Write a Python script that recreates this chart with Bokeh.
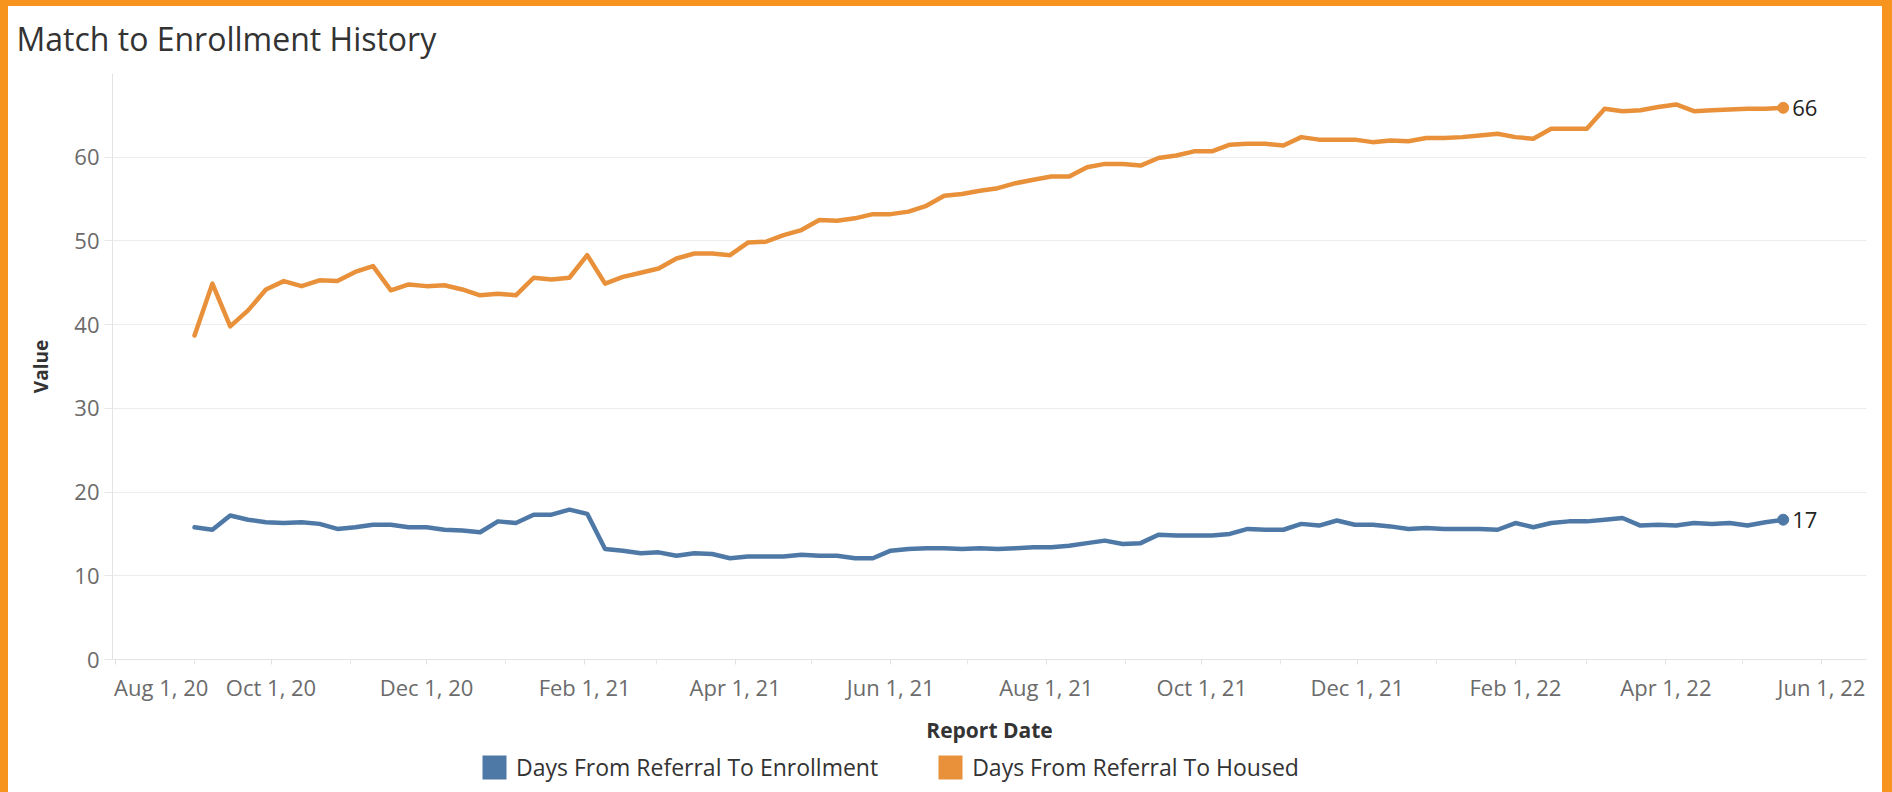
from datetime import datetime
import pandas as pd
from bokeh.plotting import figure
from bokeh.layouts import column
from bokeh.models import (ColumnDataSource, FixedTicker, DatetimeTickFormatter,
                          Legend, LegendItem, Range1d)
from bokeh.core.properties import value
from bokeh.embed import file_html
from bokeh.resources import INLINE

# ---------------- data ----------------
report_dates = [
    "2020-09-01", "2020-09-08", "2020-09-15", "2020-09-22", "2020-09-29",
    "2020-10-06", "2020-10-13", "2020-10-20", "2020-10-27",
    "2020-11-03", "2020-11-10", "2020-11-17", "2020-11-24",
    "2020-12-01", "2020-12-08", "2020-12-15", "2020-12-22", "2020-12-29",
    "2021-01-05", "2021-01-12", "2021-01-19", "2021-01-26",
    "2021-02-02", "2021-02-09", "2021-02-16", "2021-02-23",
    "2021-03-02", "2021-03-09", "2021-03-16", "2021-03-23", "2021-03-30",
    "2021-04-06", "2021-04-13", "2021-04-20", "2021-04-27",
    "2021-05-04", "2021-05-11", "2021-05-18", "2021-05-25",
    "2021-06-01", "2021-06-08", "2021-06-15", "2021-06-22", "2021-06-29",
    "2021-07-06", "2021-07-13", "2021-07-20", "2021-07-27",
    "2021-08-03", "2021-08-10", "2021-08-17", "2021-08-24", "2021-08-31",
    "2021-09-07", "2021-09-14", "2021-09-21", "2021-09-28",
    "2021-10-05", "2021-10-12", "2021-10-19", "2021-10-26",
    "2021-11-02", "2021-11-09", "2021-11-16", "2021-11-23", "2021-11-30",
    "2021-12-07", "2021-12-14", "2021-12-21", "2021-12-28",
    "2022-01-04", "2022-01-11", "2022-01-18", "2022-01-25",
    "2022-02-01", "2022-02-08", "2022-02-15", "2022-02-22",
    "2022-03-01", "2022-03-08", "2022-03-15", "2022-03-22", "2022-03-29",
    "2022-04-05", "2022-04-12", "2022-04-19", "2022-04-26",
    "2022-05-03", "2022-05-10", "2022-05-17",
]

days_to_enrollment = [
    15.8, 15.5, 17.2, 16.7, 16.4, 16.3, 16.4, 16.2, 15.6, 15.8, 16.1, 16.1,
    15.8, 15.8, 15.5, 15.4, 15.2, 16.5, 16.3, 17.3, 17.3, 17.9, 17.4, 13.2,
    13.0, 12.7, 12.8, 12.4, 12.7, 12.6, 12.1, 12.3,
    12.3, 12.3, 12.5, 12.4, 12.4, 12.1, 12.1, 13.0, 13.2, 13.3, 13.3, 13.2,
    13.3, 13.2, 13.3, 13.4, 13.4, 13.6, 13.9, 14.2, 13.8, 13.9, 14.9, 14.8,
    14.8, 14.8, 15.0, 15.6, 15.5, 15.5, 16.2, 16.0, 16.6,
    16.1, 16.1, 15.9, 15.6, 15.7, 15.6, 15.6, 15.6, 15.5, 16.3, 15.8, 16.3,
    16.5, 16.5, 16.7, 16.9, 16.0, 16.1, 16.0, 16.3, 16.2, 16.3, 16.0, 16.4,
    16.7,
]

days_to_housed = [
    38.7, 44.9, 39.8, 41.7, 44.2, 45.2, 44.6, 45.3, 45.2, 46.3, 47.0, 44.1,
    44.8, 44.6, 44.7, 44.2, 43.5, 43.7, 43.5, 45.6, 45.4, 45.6, 48.3, 44.9,
    45.7, 46.2, 46.7, 47.9, 48.5, 48.5, 48.3, 49.8,
    49.9, 50.7, 51.3, 52.5, 52.4, 52.7, 53.2, 53.2, 53.5, 54.2, 55.4, 55.6,
    56.0, 56.3, 56.9, 57.3, 57.7, 57.7, 58.8, 59.2, 59.2, 59.0, 59.9, 60.2,
    60.7, 60.7, 61.5, 61.6, 61.6, 61.4, 62.4, 62.1, 62.1,
    62.1, 61.8, 62.0, 61.9, 62.3, 62.3, 62.4, 62.6, 62.8, 62.4, 62.2, 63.4,
    63.4, 63.4, 65.8, 65.5, 65.6, 66.0, 66.3, 65.5, 65.6, 65.7, 65.8, 65.8,
    65.9,
]

series_names = ["Days From Referral To Enrollment", "Days From Referral To Housed"]
series_colors = ["#4E79A7", "#E8913A"]

x_tick_dates = ["2020-08-01", "2020-10-01", "2020-12-01", "2021-02-01",
                "2021-04-01", "2021-06-01", "2021-08-01", "2021-10-01",
                "2021-12-01", "2022-02-01", "2022-04-01", "2022-06-01"]
x_minor_tick_dates = ["2020-09-01", "2020-11-01", "2021-01-01", "2021-03-01",
                      "2021-05-01", "2021-07-01", "2021-09-01", "2021-11-01",
                      "2022-01-01", "2022-03-01", "2022-05-01"]
y_ticks = [0, 10, 20, 30, 40, 50, 60]

title_text = "Match to Enrollment History"
x_title = "Report Date"
y_title = "Value"

# ---------------- helpers ----------------
def to_ms(strs):
    epoch = pd.Timestamp("1970-01-01")
    return [(pd.Timestamp(s) - epoch).total_seconds() * 1000.0 for s in strs]

dates = pd.to_datetime(report_dates)
FONT = "Open Sans"
ORANGE_FRAME = "#F7941E"

# ---------------- main chart ----------------
p = figure(width=1892, height=746, x_axis_type="datetime",
           x_range=Range1d(datetime(2020, 7, 30, 20), datetime(2022, 6, 18, 16)),
           y_range=Range1d(0, 70),
           output_backend="svg", toolbar_location=None,
           min_border_left=112, min_border_right=26,
           min_border_top=72, min_border_bottom=86)

# orange dashboard frame (top, left, right) drawn behind a transparent border fill
p.styles = {"background-color": "white",
            "box-shadow": f"inset 8px 6px 0 0 {ORANGE_FRAME}, inset -10px 0 0 0 {ORANGE_FRAME}"}
p.background_fill_color = "white"
p.border_fill_alpha = 0
p.outline_line_color = None

# title
p.title.text = title_text
p.title.text_font = FONT
p.title.text_font_size = "32px"
p.title.text_font_style = "normal"
p.title.text_color = "#333333"
p.title.align = "left"
p.title.offset = -96
p.title.standoff = 28

# grids
p.xgrid.grid_line_color = None
p.ygrid.ticker = FixedTicker(ticks=y_ticks)
p.ygrid.grid_line_color = "#ececec"
p.ygrid.grid_line_width = 1

# y axis
ya = p.yaxis[0]
ya.ticker = FixedTicker(ticks=y_ticks)
ya.axis_line_color = "#e3e3e3"
ya.major_tick_line_color = "#e8e8e8"
ya.major_tick_out = 8
ya.major_tick_in = 0
ya.minor_tick_line_color = None
ya.major_label_text_font = FONT
ya.major_label_text_font_size = "22px"
ya.major_label_text_color = "#6b6b6b"
ya.major_label_standoff = 5
ya.axis_label = y_title
ya.axis_label_text_font = FONT
ya.axis_label_text_font_size = "19px"
ya.axis_label_text_font_style = "bold"
ya.axis_label_text_color = "#333333"
ya.axis_label_standoff = 17

# x axis
xa = p.xaxis[0]
major_ms = to_ms(x_tick_dates)
xa.ticker = FixedTicker(ticks=major_ms, minor_ticks=to_ms(x_minor_tick_dates))
fmt = "%b %-d, %y"
xa.formatter = DatetimeTickFormatter(milliseconds=fmt, seconds=fmt, minsec=fmt,
                                     minutes=fmt, hourmin=fmt, hours=fmt,
                                     days=fmt, months=fmt, years=fmt)
# first label sits to the right of its tick (it is at the axis edge)
xa.major_label_overrides = {major_ms[0]: "\u00a0" * 16 + "Aug 1, 20"}
xa.axis_line_color = "#e3e3e3"
xa.major_tick_line_color = "#e0e0e0"
xa.minor_tick_line_color = "#e8e8e8"
xa.major_tick_out = 5
xa.major_tick_in = 0
xa.minor_tick_out = 5
xa.minor_tick_in = 0
xa.major_label_text_font = FONT
xa.major_label_text_font_size = "22px"
xa.major_label_text_color = "#6b6b6b"
xa.major_label_standoff = 7
xa.axis_label = x_title
xa.axis_label_text_font = FONT
xa.axis_label_text_font_size = "21px"
xa.axis_label_text_font_style = "bold"
xa.axis_label_text_color = "#333333"
xa.axis_label_standoff = 11

# ---------------- legend strip ----------------
leg = figure(width=1892, height=46, x_axis_type=None, y_axis_type=None,
             output_backend="svg", toolbar_location=None,
             min_border_left=0, min_border_right=0,
             min_border_top=0, min_border_bottom=0)
leg.styles = {"background-color": "white",
              "box-shadow": f"inset 8px 0 0 0 {ORANGE_FRAME}, inset -10px 0 0 0 {ORANGE_FRAME}"}
leg.background_fill_alpha = 0
leg.border_fill_alpha = 0
leg.outline_line_color = None
leg.xgrid.grid_line_color = None
leg.ygrid.grid_line_color = None

legend_items = []
for name, vals, color in zip(series_names, [days_to_enrollment, days_to_housed], series_colors):
    src = ColumnDataSource(dict(x=dates, y=vals))
    p.line("x", "y", source=src, line_color=color, line_width=4.5,
           line_join="round", line_cap="round")
    last = ColumnDataSource(dict(x=[dates[-1]], y=[vals[-1]], t=[f"{vals[-1]:.0f}"]))
    p.scatter("x", "y", source=last, size=11, fill_color=color, line_color=color)
    p.text("x", "y", text="t", source=last, x_offset=9, text_align="left",
           text_baseline="middle", text_font=value(FONT), text_font_size="22px",
           text_color="#222222")
    # zero-area boxes (same data) give the legend its square colour swatch
    swatch = leg.quad(left="x", right="x", top="y", bottom="y", source=src,
                      fill_color=color, line_color=None)
    legend_items.append(LegendItem(label=name, renderers=[swatch]))

legend = Legend(items=legend_items, orientation="horizontal",
                location=(367, 9), padding=0, margin=0, spacing=57,
                glyph_width=30, glyph_height=30, label_standoff=7,
                label_text_font=FONT, label_text_font_size="23px",
                label_text_color="#333333",
                border_line_color=None, background_fill_alpha=0)
leg.add_layout(legend, "center")

layout = column(p, leg, spacing=0)
open("out.html", "w").write(file_html(layout, INLINE))
